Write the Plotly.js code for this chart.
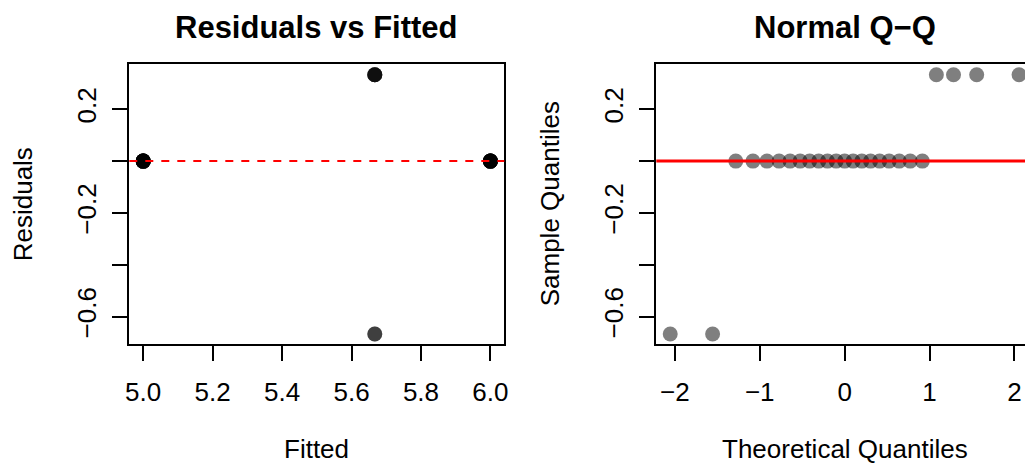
<!DOCTYPE html>
<html>
<head>
<meta charset="utf-8">
<script src="https://cdn.plot.ly/plotly-3.0.1.min.js"></script>
<style>
html, body { margin: 0; padding: 0; overflow: hidden; background: #ffffff; }
#chart { width: 1045px; height: 465px; }
</style>
</head>
<body>
<div id="chart"></div>
<script>
// Residuals vs Fitted panel
const fitted = [5, 5, 5, 5, 5, 5, 5, 5, 5, 5,
                5.667, 5.667, 5.667, 5.667, 5.667, 5.667,
                6, 6, 6, 6, 6, 6, 6, 6, 6];
const residuals = [0, 0, 0, 0, 0, 0, 0, 0, 0, 0,
                   0.333, 0.333, 0.333, 0.333, -0.667, -0.667,
                   0, 0, 0, 0, 0, 0, 0, 0, 0];

// Normal Q-Q panel
const theoreticalQ = [-2.054, -1.555, -1.282, -1.080, -0.915, -0.772, -0.643, -0.524, -0.412,
                      -0.305, -0.202, -0.100, 0.000, 0.100, 0.202, 0.305, 0.412, 0.524,
                      0.643, 0.772, 0.915, 1.080, 1.282, 1.555, 2.054];
const sampleQ = [-0.667, -0.667, 0, 0, 0, 0, 0, 0, 0,
                 0, 0, 0, 0, 0, 0, 0, 0, 0,
                 0, 0, 0, 0.333, 0.333, 0.333, 0.333];

const fittedTicks = [5.0, 5.2, 5.4, 5.6, 5.8, 6.0];
const fittedTickText = ["5.0", "5.2", "5.4", "5.6", "5.8", "6.0"];
const qTicks = [-2, -1, 0, 1, 2];
const qTickText = ["\u22122", "\u22121", "0", "1", "2"];
const resTicks = [-0.6, -0.4, -0.2, 0.0, 0.2];
const resTickText = ["\u22120.6", "", "\u22120.2", "", "0.2"];

const refLineY = 0;
const titles = ["Residuals vs Fitted", "Normal Q\u2212Q"];
const xTitles = ["Fitted", "Theoretical Quantiles"];
const yTitles = ["Residuals", "Sample Quantiles"];

const W = 1045, H = 465;
const FONT = "Liberation Sans, Arial, Helvetica, sans-serif";
const px = v => v / W;
const py = v => (H - v) / H;

const x1L = 129.3, x1R = 504.3, x2L = 656.3, x2R = 1033.0;
const yT = 64.3, yB = 344.3;

const traces = [
  {
    x: fitted, y: residuals, xaxis: "x", yaxis: "y",
    type: "scatter", mode: "markers",
    marker: { color: "rgba(0,0,0,0.5)", size: 15, line: { width: 0 } },
    hoverinfo: "skip", showlegend: false
  },
  {
    x: theoreticalQ, y: sampleQ, xaxis: "x2", yaxis: "y2",
    type: "scatter", mode: "markers",
    marker: { color: "rgba(0,0,0,0.5)", size: 15, line: { width: 0 } },
    hoverinfo: "skip", showlegend: false
  }
];

const axisCommon = {
  showgrid: false, zeroline: false,
  showline: true, mirror: true, linecolor: "#000000", linewidth: 2,
  ticks: "outside", ticklen: 15, tickwidth: 2, tickcolor: "#000000",
  tickfont: { family: FONT, size: 26, color: "#000000" },
  tickmode: "array", automargin: false, fixedrange: true
};

const layout = {
  width: W, height: H,
  margin: { l: 0, r: 0, t: 0, b: 0, pad: 0 },
  paper_bgcolor: "#ffffff", plot_bgcolor: "#ffffff",
  showlegend: false,
  xaxis: Object.assign({}, axisCommon, {
    domain: [px(x1L), px(x1R)], range: [4.96, 6.04],
    tickvals: fittedTicks, ticktext: fittedTickText, anchor: "y", ticklabelstandoff: 8
  }),
  yaxis: Object.assign({}, axisCommon, {
    domain: [py(yB), py(yT)], range: [-0.7067, 0.3733],
    tickvals: resTicks, ticktext: resTickText, anchor: "x", tickangle: -90, ticklabelstandoff: 6
  }),
  xaxis2: Object.assign({}, axisCommon, {
    domain: [px(x2L), px(x2R)], range: [-2.218, 2.218],
    tickvals: qTicks, ticktext: qTickText, anchor: "y2", ticklabelstandoff: 8
  }),
  yaxis2: Object.assign({}, axisCommon, {
    domain: [py(yB), py(yT)], range: [-0.7067, 0.3733],
    tickvals: resTicks, ticktext: resTickText, anchor: "x2", tickangle: -90, ticklabelstandoff: 6
  }),
  shapes: [
    { type: "line", xref: "x domain", yref: "y", x0: 0, x1: 1, y0: refLineY, y1: refLineY,
      line: { color: "#ff0000", width: 2, dash: "8px,8px" }, layer: "above" },
    { type: "line", xref: "x2 domain", yref: "y2", x0: 0, x1: 1, y0: refLineY, y1: refLineY,
      line: { color: "#ff0000", width: 3 }, layer: "above" }
  ],
  annotations: [
    { text: titles[0], xref: "paper", yref: "paper", x: px((x1L + x1R) / 2), y: py(28),
      xanchor: "center", yanchor: "middle", showarrow: false,
      font: { family: FONT, size: 31, color: "#000000", weight: 700 } },
    { text: titles[1], xref: "paper", yref: "paper", x: px((x2L + x2R) / 2), y: py(28),
      xanchor: "center", yanchor: "middle", showarrow: false,
      font: { family: FONT, size: 31, color: "#000000", weight: 700 } },
    { text: xTitles[0], xref: "paper", yref: "paper", x: px((x1L + x1R) / 2), y: 0,
      xanchor: "center", yanchor: "bottom", showarrow: false, borderpad: 0,
      font: { family: FONT, size: 26, color: "#000000" } },
    { text: xTitles[1], xref: "paper", yref: "paper", x: px((x2L + x2R) / 2), y: 0,
      xanchor: "center", yanchor: "bottom", showarrow: false, borderpad: 0,
      font: { family: FONT, size: 26, color: "#000000" } },
    { text: yTitles[0], xref: "paper", yref: "paper", x: px(23), y: py((yT + yB) / 2),
      xanchor: "center", yanchor: "middle", showarrow: false, textangle: -90,
      font: { family: FONT, size: 26, color: "#000000" } },
    { text: yTitles[1], xref: "paper", yref: "paper", x: px(550), y: py((yT + yB) / 2),
      xanchor: "center", yanchor: "middle", showarrow: false, textangle: -90,
      font: { family: FONT, size: 26, color: "#000000" } }
  ]
};

Plotly.newPlot("chart", traces, layout, { displayModeBar: false, staticPlot: true, responsive: false });
</script>
</body>
</html>
